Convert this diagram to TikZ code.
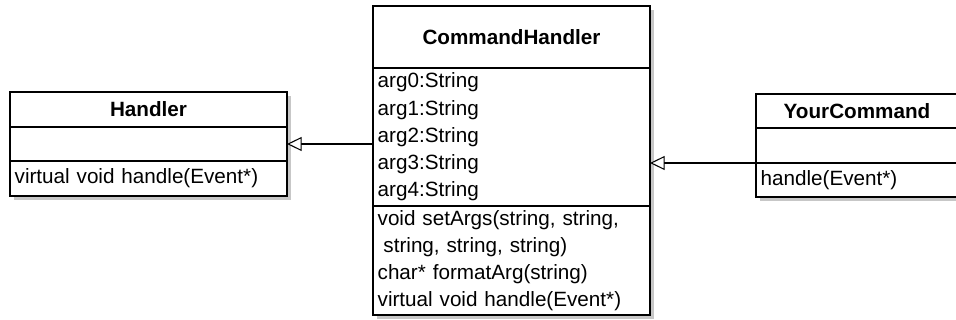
\documentclass[tikz,border=0pt]{standalone}
\usepackage{fontspec}
\setmainfont{Liberation Sans}
\usetikzlibrary{positioning,arrows.meta,shadows}

\tikzset{
  umlpart/.style={draw, line width=0.8pt, fill=white, outer sep=0pt,
    inner xsep=3.5pt, inner ysep=0pt, text width=200.75pt,
    minimum height=#1,
    drop shadow={shadow xshift=3pt, shadow yshift=-3pt, fill=black!22, opacity=1}},
  classname/.style={umlpart=#1, align=center, font=\fontsize{15.5}{20.4}\selectfont\bfseries},
  classpart/.style={umlpart=#1, align=left},
  narrow/.style={text width=144.5pt},
  inherits/.style={line width=0.8pt, -{Triangle[open, length=11pt, width=10.5pt, fill=white]}}
}

\begin{document}
\begin{tikzpicture}[x=0.75pt, y=-0.75pt, font=\fontsize{15.5}{20.4}\selectfont]
    \clip (0,0) rectangle (956,320);
    \fill[white] (0,0) rectangle (956,320);

    % Handler
    \node[classname=26.25pt, anchor=north west] (hTitle) at (10,92) {Handler};
    \node[classpart=25.5pt, below=0pt of hTitle] (hAttr) {};
    \node[classpart=26.25pt, below=0pt of hAttr] (hMeth) {virtual void handle(Event*)};

    % CommandHandler
    \node[classname=46.5pt, anchor=north west] (chTitle) at (373,6) {CommandHandler};
    \node[classpart=103.5pt, below=0pt of chTitle] (chAttr) {arg0:String\\arg1:String\\arg2:String\\arg3:String\\arg4:String};
    \node[classpart=81.75pt, below=0pt of chAttr] (chMeth) {void setArgs(string, string,\\\hspace*{0.28em}string, string, string)\\char* formatArg(string)\\virtual void handle(Event*)};

    % YourCommand
    \node[classname=25.5pt, narrow, anchor=north west] (ycTitle) at (756,94) {YourCommand};
    \node[classpart=26.25pt, narrow, below=0pt of ycTitle] (ycAttr) {};
    \node[classpart=25.5pt, narrow, below=0pt of ycAttr] (ycMeth) {handle(Event*)};

    \draw[inherits] (chAttr.west |- hAttr.east) -- (hAttr.east);
    \draw[inherits] (ycAttr.south west) -- (ycAttr.south west -| chAttr.east);
\end{tikzpicture}
\end{document}
